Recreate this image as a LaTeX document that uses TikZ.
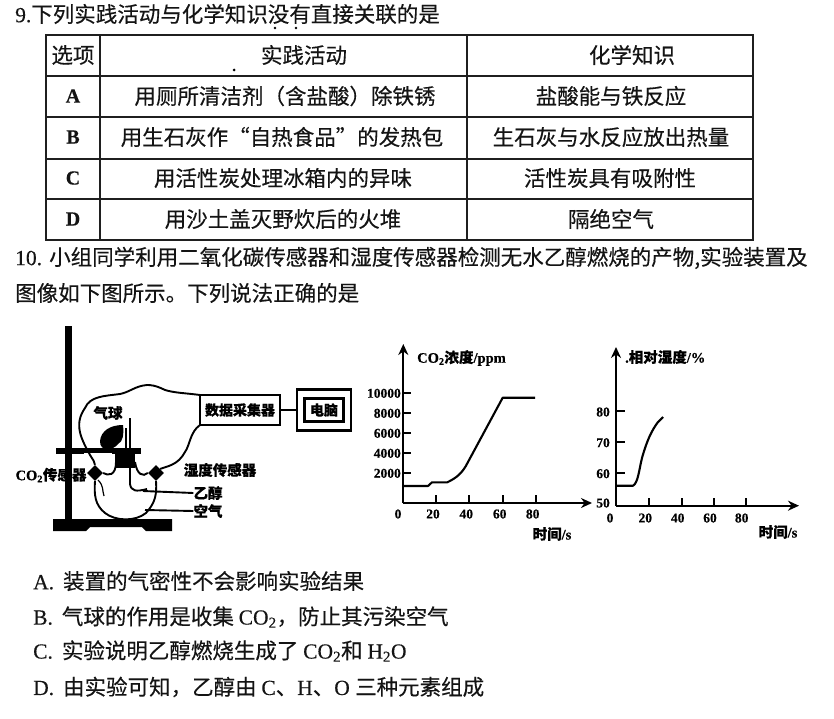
\documentclass[tikz,border=0pt]{standalone}
\usepackage{fontspec}
\setmainfont{Liberation Serif}[FakeBold=0.35]
\newfontfamily\cjk{Noto Sans CJK SC}[FakeBold=0.35]
\usetikzlibrary{arrows.meta,shapes.geometric}
\tikzset{
 txt/.style={inner sep=0pt,font=\cjk\fontsize{21.5}{22}\selectfont,text=black!92},
 para/.style={txt,anchor=west},
 cell/.style={txt,anchor=center},
 latincell/.style={cell,font=\rmfamily\bfseries\fontsize{20}{20}\selectfont},
 lab/.style={inner sep=0pt,font=\cjk\bfseries\fontsize{14.5}{15}\selectfont},
 num/.style={inner sep=0pt,font=\rmfamily\bfseries\fontsize{13.5}{14}\selectfont},
 rule/.style={line width=1.7pt,black!88},
 axis/.style={line width=2.1pt,-{Stealth[length=11pt,width=10pt]}},
 tick/.style={line width=2.1pt},
 curve/.style={line width=2.1pt,line join=round},
 wire/.style={line width=1.9pt},
 sensor/.style={diamond,fill=black,inner sep=0pt,minimum size=16pt},
 devbox/.style={draw,line width=2.2pt,inner sep=0pt,font=\cjk\bfseries\fontsize{14}{14}\selectfont},
}
\begin{document}
\begin{tikzpicture}[x=1pt,y=-1pt]
\useasboundingbox (0,0) rectangle (834,719);
% title
\node[para] (q9) at (15,14) {\rmfamily 9.\cjk 下列实践活动与化学知识没有直接关联的是};
\fill (275,28) circle (1.4pt) (296,28) circle (1.4pt) (234,70) circle (1.5pt);
% table
\draw[rule] (46,35) rectangle (753,240);
\foreach \y in {76,117,159,199} \draw[rule] (46,\y) -- (753,\y);
\draw[rule] (100,35) -- (100,240);
\draw[rule] (467,35) -- (467,240);
\node[cell] (h1) at (73,55) {选项};
\node[cell] (h2) at (304,55) {实践活动};
\node[cell] (h3) at (632,55) {化学知识};
\node[latincell] (a1) at (73,96) {A};
\node[cell] (a2) at (285,96) {用厕所清洁剂（含盐酸）除铁锈};
\node[cell] (a3) at (611,96) {盐酸能与铁反应};
\node[latincell] (b1) at (73,137) {B};
\node[cell] (b2) at (282,137) {用生石灰作“自热食品”的发热包};
\node[cell] (b3) at (611,137) {生石灰与水反应放出热量};
\node[latincell] (c1) at (73,178) {C};
\node[cell] (c2) at (283,178) {用活性炭处理冰箱内的异味};
\node[cell] (c3) at (610,178) {活性炭具有吸附性};
\node[latincell] (d1) at (73,219) {D};
\node[cell] (d2) at (283,219) {用沙土盖灭野炊后的火堆};
\node[cell] (d3) at (611,219) {隔绝空气};
% question 10
\node[para] (q10) at (15,258) {\rmfamily 10. \cjk 小组同学利用二氧化碳传感器和湿度传感器检测无水乙醇燃烧的产物,实验装置及};
\node[para] (q10b) at (15,293) {图像如下图所示。下列说法正确的是};
% options
\node[para] (oa) at (33,581) {\rmfamily A.\hspace{9pt}\cjk 装置的气密性不会影响实验结果};
\node[para] (ob) at (33,617) {\rmfamily B.\hspace{9pt}\cjk 气球的作用是收集 \rmfamily CO\textsubscript{2}\cjk ，防止其污染空气};
\node[para] (oc) at (33,651) {\rmfamily C.\hspace{9pt}\cjk 实验说明乙醇燃烧生成了 \rmfamily CO\textsubscript{2}\cjk 和 \rmfamily H\textsubscript{2}O};
\node[para] (od) at (33,687) {\rmfamily D.\hspace{9pt}\cjk 由实验可知，乙醇由 \rmfamily C\cjk 、\rmfamily H\cjk 、\rmfamily O \cjk 三种元素组成};
% apparatus: stand
\fill (65,326) rectangle (72,520);
\fill (53,519) -- (172,519) -- (172,531) -- (146,531) -- (142,527) -- (90,527) -- (86,531) -- (53,531) -- cycle;
\fill (56,448) rectangle (141,454);
\draw[white,line width=.8pt] (84,453) -- (112,453);
\fill (115,454) rectangle (135,468);
% sensors
\node[sensor] (co2s) at (95,473) {};
\node[sensor] (hums) at (156,473) {};
% devices
\node[devbox,minimum width=80pt,minimum height=30pt] (daq) at (240,410) {数据采集器};
\node[devbox,minimum width=54pt,minimum height=41pt] (pcout) at (324,410) {};
\node[devbox,minimum width=39pt,minimum height=23pt] (pc) at (324,410) {电脑};
\draw[line width=2.2pt] (daq) -- (pcout);
% bag
\draw[wire] (200,395) .. controls (185,393) and (175,393) .. (165,390)
 .. controls (155,385) and (150,385) .. (147,385)
 .. controls (135,386) and (130,392) .. (120,394)
 .. controls (105,396) and (90,396) .. (85,408)
 .. controls (73,425) and (82,440) .. (90,455)
 .. controls (93,460) and (95,462) .. (co2s.north);
\draw[wire] (200,425) .. controls (190,432) and (190,445) .. (185,452)
 .. controls (178,465) and (168,466) .. (hums.north east);
\draw[wire] (co2s.east) .. controls (108,476) and (116,476) .. (116,462);
\draw[wire] (135,462) .. controls (137,475) and (143,477) .. (hums.west);
% flask
\draw[wire] (co2s.south) .. controls (94,495) and (95,505) .. (105,513)
 .. controls (115,521) and (135,522) .. (146,513)
 .. controls (155,503) and (157,495) .. (hums.south);
\draw[line width=1.2pt] (98,480) .. controls (104,486) and (102,490) .. (104,496);
% tube and balloon
\draw[wire] (130,418) -- (130,484) .. controls (131,491) and (136,492) .. (147,489);
\draw[wire] (126,428) -- (126,455);
\fill (100,441) .. controls (101,431) and (110,425) .. (123,425) .. controls (124,434) and (123,442) .. (118,444) .. controls (116,447) and (112,449) .. (107,449) .. controls (103,449) and (100,447) .. (100,441) -- cycle;
% labels
\node[lab] (lball) at (108,413) {气球};
\node[lab] (lco2) at (51,475) {\rmfamily CO\textsubscript{2}\cjk 传感器};
\node[lab] (lhum) at (220,470) {湿度传感器};
\node[lab] (leth) at (208,493) {乙醇};
\node[lab] (lair) at (208,511) {空气};
\coordinate (ethend) at (143,491);
\coordinate (airend) at (145,510);
\draw[wire] (ethend) -- (leth.west);
\draw[wire] (airend) -- (lair.west);
% chart 1
\coordinate (o1) at (403.3,503);
\coordinate (y1) at (403.3,344);
\coordinate (x1) at (592,503);
\draw[axis] (o1) -- (y1);
\draw[axis] (o1) -- (x1);
\foreach \y/\t in {393.3/10000,413.3/8000,433.3/6000,453.3/4000,473.3/2000}{
 \draw[tick] (403.3,\y) -- (411,\y);
 \node[num,anchor=east] at (401,\y) {\t};}
\foreach \x/\t in {436/20,469.3/40,502.7/60,535.7/80}{
 \draw[tick] (\x,503) -- (\x,495);
 \node[num] at (\x-3,514) {\t};}
\node[num] (z1) at (398,514) {0};
\node[lab,anchor=west] (t1) at (417,358) {\rmfamily CO\textsubscript{2}\cjk 浓度\rmfamily/ppm};
\node[lab] (xl1) at (552,534) {时间\rmfamily/s};
\draw[curve] (403.3,486) -- (428,486) -- (432,482.3) -- (447.3,482.3) .. controls (456,478) and (462,474) .. (468,462) -- (502.7,397.7) -- (535,397.7);
% chart 2
\coordinate (o2) at (616,505.7);
\coordinate (y2) at (616,347);
\coordinate (x2) at (799,505.7);
\draw[axis] (o2) -- (y2);
\draw[axis] (o2) -- (x2);
\foreach \y/\t in {411/80,441.7/70,472.7/60}{
 \draw[tick] (616,\y) -- (625,\y);
 \node[num,anchor=east] at (610,\y+1) {\t};}
\node[num,anchor=east] (f2) at (610,503) {50};
\foreach \x/\t in {649.3/20,681.7/40,714/60,745.7/80}{
 \draw[tick] (\x,505.7) -- (\x,498);
 \node[num] at (\x-4,518) {\t};}
\node[num] (z2) at (610,518) {0};
\node[lab,anchor=west] (t2) at (625,357) {\rmfamily .\cjk 相对湿度\rmfamily/\%};
\node[lab] (xl2) at (778,532) {时间\rmfamily/s};
\draw[curve] (616,485.7) -- (633,485.7) .. controls (638,483) and (639,470) .. (642,458) .. controls (647,440) and (652,430) .. (658,422) -- (663,417);
\end{tikzpicture}
\end{document}
